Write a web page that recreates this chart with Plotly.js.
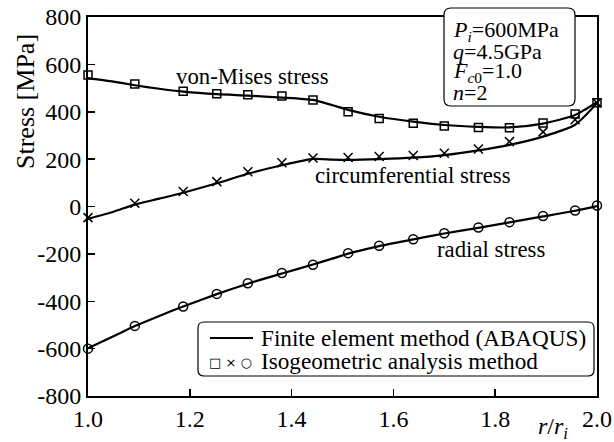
<!DOCTYPE html>
<html>
<head>
<meta charset="utf-8">
<script src="https://cdn.plot.ly/plotly-3.0.1.min.js"></script>
<style>html,body{margin:0;padding:0;background:#fff;}#chart{width:614px;height:442px;}</style>
</head>
<body>
<div id="chart"></div>
<script>
// ---- Data ----
// Isogeometric analysis (markers)
var xIGA = [1.0, 1.092, 1.187, 1.253, 1.314, 1.381, 1.442, 1.511, 1.572, 1.639, 1.700, 1.767, 1.828, 1.894, 1.957, 2.0];
var vonMisesIGA = [555, 517, 487, 476, 472, 466, 450, 400, 372, 351, 340, 333, 332, 353, 390, 438];
var circIGA = [-47, 14, 63, 105, 147, 185, 205, 207, 211, 215, 225, 243, 274, 315, 366, 438];
var radialIGA = [-600, -504, -422, -369, -324, -281, -246, -197, -166, -138, -113, -89, -66, -40, -17, 4];

// Finite element method (lines)
var xFEM = [1.0, 1.05, 1.092, 1.14, 1.187, 1.253, 1.314, 1.381, 1.442, 1.48, 1.511, 1.572, 1.639, 1.70, 1.767, 1.828, 1.894, 1.957, 2.0];
var vonMisesFEM = [542, 527, 512, 497, 485, 474, 468, 460, 450, 428, 408, 379, 358, 344, 336, 334, 350, 386, 440];
var circFEM = [-52, -22, 8, 33, 58, 98, 138, 174, 201, 198, 197, 200, 206, 217, 237, 260, 295, 345, 436];
var radialFEM = [-598, -548, -505, -462, -422, -370, -326, -283, -245, -220, -199, -167, -139, -114, -90, -67, -42, -18, 2];

// Tick labels
var yTickVals = [-800, -600, -400, -200, 0, 200, 400, 600, 800];
var yTickText = ["-800", "-600", "-400", "-200", "0", "200", "400", "600", "800"];
var xTickVals = [1.0, 1.2, 1.4, 1.6, 1.8, 2.0];
var xTickText = ["1.0", "1.2", "1.4", "1.6", "1.8", "2.0"];

// Text
var curveLabels = ["von-Mises stress", "circumferential stress", "radial stress"];
var legendFEM = "Finite element method (ABAQUS)";
var legendIGA = "Isogeometric analysis method";

// ---- Styling ----
var SERIF = "Liberation Serif";
var lineStyle = {color: "#000", width: 2.2, shape: "spline", smoothing: 0.6};

function fem(y) {
  return {x: xFEM, y: y, mode: "lines", line: lineStyle, showlegend: false, hoverinfo: "skip", cliponaxis: false};
}
function iga(y, sym, size) {
  return {x: xIGA, y: y, mode: "markers", showlegend: false, cliponaxis: false,
          marker: {symbol: sym, size: size, color: "#000", line: {color: "#000", width: 1.5}}};
}

var traces = [
  fem(vonMisesFEM), fem(circFEM), fem(radialFEM),
  iga(vonMisesIGA, "square-open", 8),
  iga(circIGA, "x-thin-open", 9),
  iga(radialIGA, "circle-open", 9)
];

// plot area geometry in pixels (for paper conversions of decorations)
var L = 88, R = 17, T = 17, B = 46;
var W = 614 - L - R, H = 442 - T - B;
function px(x) { return (x - L) / W; }
function py(y) { return (442 - B - y) / H; }
function roundRect(x0, y0, x1, y1, r) {
  var rx = r / W, ry = r / H;
  var X0 = px(x0), X1 = px(x1), Y0 = py(y0), Y1 = py(y1);
  return "M" + (X0 + rx) + "," + Y0 +
    " L" + (X1 - rx) + "," + Y0 + " Q" + X1 + "," + Y0 + " " + X1 + "," + (Y0 - ry) +
    " L" + X1 + "," + (Y1 + ry) + " Q" + X1 + "," + Y1 + " " + (X1 - rx) + "," + Y1 +
    " L" + (X0 + rx) + "," + Y1 + " Q" + X0 + "," + Y1 + " " + X0 + "," + (Y1 + ry) +
    " L" + X0 + "," + (Y0 - ry) + " Q" + X0 + "," + Y0 + " " + (X0 + rx) + "," + Y0 + " Z";
}

function F(size, fam) { return {family: fam || SERIF, size: size, color: "#000"}; }
var labFont = F(22.8), legFont = F(23.2), boxFont = F(22);
function paperText(x, y, text, font, xanchor, extra) {
  var a = {x: px(x), y: py(y), xref: "paper", yref: "paper", text: text, showarrow: false,
           font: font, xanchor: xanchor || "center", yanchor: "middle"};
  if (extra) for (var k in extra) a[k] = extra[k];
  return a;
}
function dataText(x, y, text) {
  return {x: x, y: y, xref: "x", yref: "y", text: text, showarrow: false, font: labFont,
          xanchor: "center", yanchor: "middle"};
}
var annotations = [
  dataText(1.323, 547, curveLabels[0]),
  dataText(1.638, 133, curveLabels[1]),
  dataText(1.792, -183, curveLabels[2]),
  paperText(25, 102, "Stress [MPa]", F(26), "center", {textangle: -90}),
  paperText(553, 428, "<i>r</i>/<i>r</i><sub><i>i</i></sub>", F(24)),
  paperText(451, 31, "<i>P</i><sub><i>i</i></sub>=600MPa", boxFont, "left"),
  paperText(451, 51, "<i>q</i>=4.5GPa", boxFont, "left"),
  paperText(451, 72, "<i>F</i><sub><i>c</i>0</sub>=1.0", boxFont, "left"),
  paperText(451, 92, "<i>n</i>=2", boxFont, "left"),
  paperText(259, 338, legendFEM, legFont, "left"),
  paperText(259, 361, legendIGA, legFont, "left"),
  paperText(207, 362, "□ × ○", {family: "DejaVu Sans", size: 13, color: "#000"}, "left")
];

var shapes = [
  {type: "path", xref: "paper", yref: "paper", path: roundRect(444, 8, 575, 106, 7),
   line: {color: "#000", width: 1.2}, fillcolor: "#fff", layer: "above"},
  {type: "path", xref: "paper", yref: "paper", path: roundRect(198, 322, 594, 376, 6),
   line: {color: "#000", width: 1.2}, fillcolor: "#fff", layer: "above"},
  {type: "line", xref: "paper", yref: "paper", x0: px(210), x1: px(253), y0: py(338), y1: py(338),
   line: {color: "#000", width: 2.2}, layer: "above"}
];

function axis(range, vals, text) {
  return {range: range, tickvals: vals, ticktext: text, ticks: "inside", ticklen: 7, tickwidth: 1.5,
    tickcolor: "#000", showline: true, linewidth: 2, linecolor: "#000", mirror: true, showgrid: false,
    zeroline: false, tickfont: F(24)};
}

var layout = {
  width: 614, height: 442,
  margin: {l: L, r: R, t: T, b: B, pad: 0},
  paper_bgcolor: "#fff", plot_bgcolor: "#fff",
  showlegend: false,
  font: {family: SERIF, color: "#000"},
  xaxis: axis([1.0, 2.0], xTickVals, xTickText),
  yaxis: axis([-800, 800], yTickVals, yTickText),
  annotations: annotations,
  shapes: shapes
};

Plotly.newPlot("chart", traces, layout, {staticPlot: true, displayModeBar: false});
</script>
</body>
</html>
